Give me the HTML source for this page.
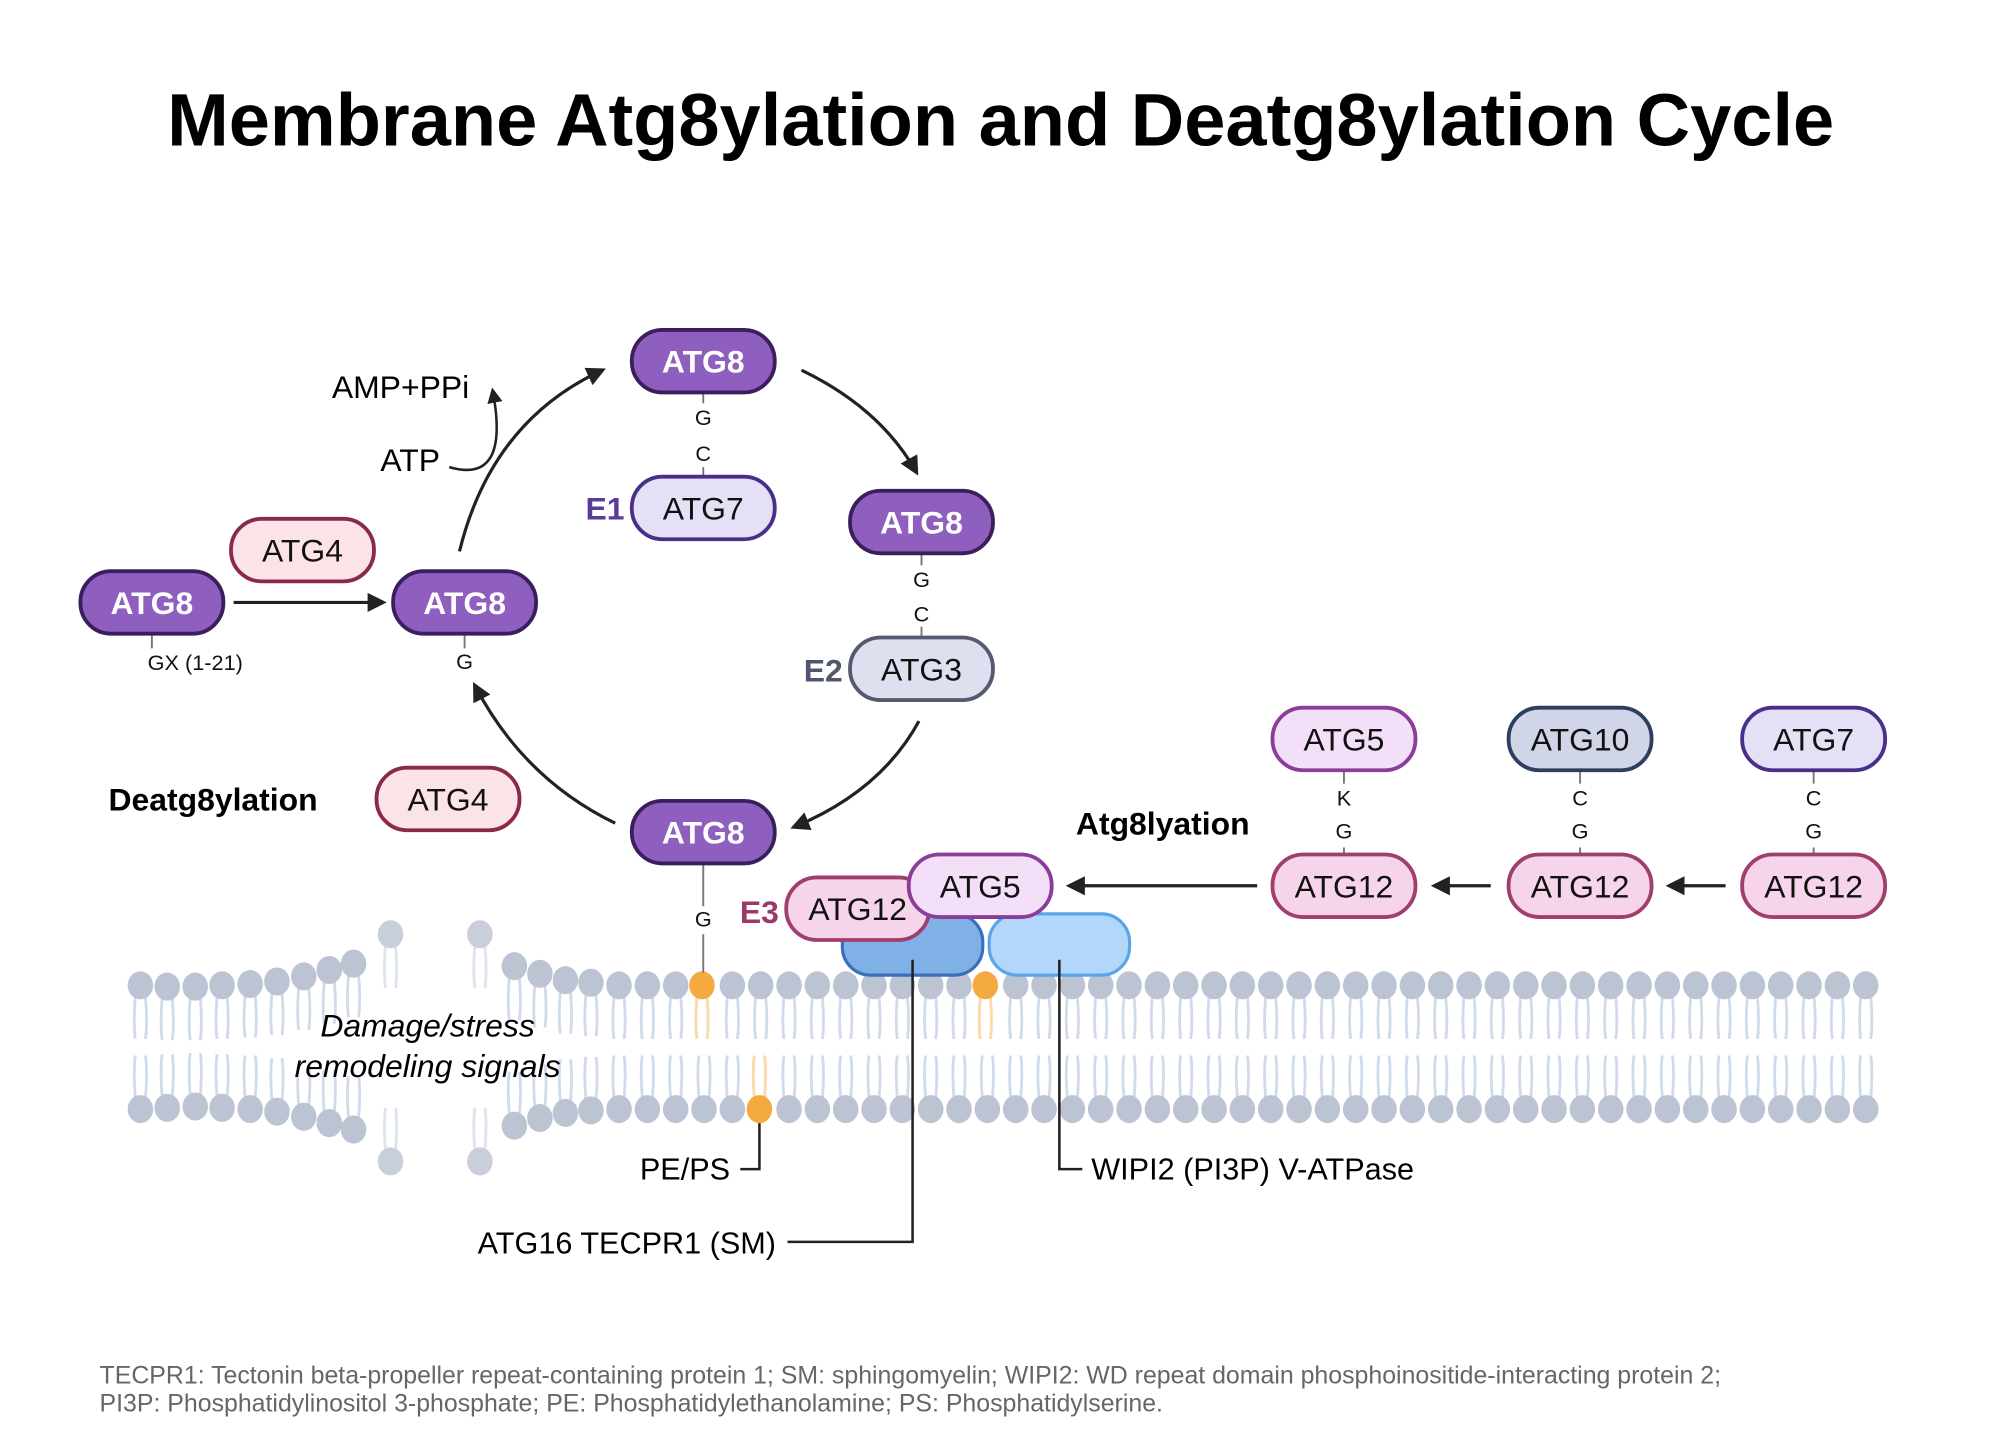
<!DOCTYPE html>
<html><head><meta charset="utf-8"><style>
html,body{margin:0;padding:0;background:#fff;}
svg{display:block;font-family:"Liberation Sans",sans-serif;}
</style></head><body>
<svg id="fig" width="2000" height="1455" viewBox="0 0 1567 1140" xmlns="http://www.w3.org/2000/svg">
<defs>
<marker id="ah" viewBox="0 0 10 10" refX="8" refY="5" markerWidth="6" markerHeight="6" orient="auto"><path d="M0,0 L10,5 L0,10 z" fill="#222"/></marker>
</defs>
<text x="784" y="114" text-anchor="middle" font-size="58" font-weight="bold" fill="#000">Membrane Atg8ylation and Deatg8ylation Cycle</text>

<g id="membrane"></g>

<rect x="660" y="716" width="110" height="48" rx="22" fill="#7fb0e6" stroke="#3a70b8" stroke-width="2.5"/>
<rect x="775" y="716" width="110" height="48" rx="22" fill="#b3d7fb" stroke="#5aa5e8" stroke-width="2.5"/>

<g fill="none" stroke="#222" stroke-width="2">
<path d="M595,880 V916 H580"/>
<path d="M715,752 V973 H617"/>
<path d="M830,752 V916 H848"/>
</g>
<text x="572" y="924" text-anchor="end" font-size="24">PE/PS</text>
<text x="608" y="982" text-anchor="end" font-size="24">ATG16 TECPR1 (SM)</text>
<text x="855" y="924" font-size="24">WIPI2 (PI3P) V-ATPase</text>

<text x="335" y="812" text-anchor="middle" font-size="25" font-style="italic">Damage/stress</text>
<text x="335" y="844" text-anchor="middle" font-size="25" font-style="italic">remodeling signals</text>

<g stroke="#777" stroke-width="1.5">
<line x1="119" y1="497" x2="119" y2="508"/>
<line x1="364" y1="497" x2="364" y2="508"/>
<line x1="551" y1="308" x2="551" y2="374"/>
<line x1="722" y1="434" x2="722" y2="500"/>
<line x1="551" y1="677" x2="551" y2="762"/>
<line x1="1053" y1="604" x2="1053" y2="670"/>
<line x1="1238" y1="604" x2="1238" y2="670"/>
<line x1="1421" y1="604" x2="1421" y2="670"/>
</g>
<g font-size="17" text-anchor="middle" fill="#111">
<rect x="540" y="316" width="22" height="50" fill="#fff"/>
<text x="551" y="333">G</text><text x="551" y="361">C</text>
<rect x="711" y="443" width="22" height="48" fill="#fff"/>
<text x="722" y="460">G</text><text x="722" y="487">C</text>
<rect x="540" y="710" width="22" height="22" fill="#fff"/>
<text x="551" y="726">G</text>
<text x="364" y="524">G</text>
<text x="153" y="525">GX (1-21)</text>
<rect x="1042" y="614" width="22" height="50" fill="#fff"/>
<text x="1053" y="631">K</text><text x="1053" y="657">G</text>
<rect x="1227" y="614" width="22" height="50" fill="#fff"/>
<text x="1238" y="631">C</text><text x="1238" y="657">G</text>
<rect x="1410" y="614" width="22" height="50" fill="#fff"/>
<text x="1421" y="631">C</text><text x="1421" y="657">G</text>
</g>

<g fill="none" stroke="#222" stroke-width="2.5" marker-end="url(#ah)">
<line x1="183" y1="472" x2="300" y2="472"/>
<path d="M360,432 Q385,330 472,290"/>
<path d="M628,290 Q690,320 718,370"/>
<path d="M720,565 Q690,620 622,648"/>
<path d="M482,645 Q410,610 372,537"/>
<path d="M352,366 Q400,380 386,306" stroke-width="2"/>
<line x1="985" y1="694" x2="838" y2="694"/>
<line x1="1168" y1="694" x2="1124" y2="694"/>
<line x1="1352" y1="694" x2="1308" y2="694"/>
</g>
<text x="260" y="312" font-size="25">AMP+PPi</text>
<text x="298" y="369" font-size="25">ATP</text>

<text x="85" y="635" font-size="25" font-weight="bold">Deatg8ylation</text>
<text x="843" y="654" font-size="25" font-weight="bold">Atg8lyation</text>
<text x="474" y="407" text-anchor="middle" font-size="25" font-weight="bold" fill="#5a3a9a">E1</text>
<text x="645" y="534" text-anchor="middle" font-size="25" font-weight="bold" fill="#50566e">E2</text>
<text x="595" y="723" text-anchor="middle" font-size="25" font-weight="bold" fill="#9a3a6a">E3</text>

<g id="pills"></g>

<text x="78" y="1084" font-size="19.5" fill="#666">TECPR1: Tectonin beta-propeller repeat-containing protein 1; SM: sphingomyelin; WIPI2: WD repeat domain phosphoinositide-interacting protein 2;</text>
<text x="78" y="1106" font-size="19.5" fill="#666">PI3P: Phosphatidylinositol 3-phosphate; PE: Phosphatidylethanolamine; PS: Phosphatidylserine.</text>
</svg>
<script>
const NS='http://www.w3.org/2000/svg';
function mk(tag,attrs,parent){const e=document.createElementNS(NS,tag);for(const k in attrs)e.setAttribute(k,attrs[k]);parent.appendChild(e);return e;}
const mem=document.getElementById('membrane');
const tail='#cfdaeb';
function lipid(x,y,dir,color,tcol,name){
  const g=mk('g',{},mem);
  
  
  const len=dir*42;
  mk('path',{d:`M${x-3},${y} Q${x-6},${y+len*0.6} ${x-4},${y+len}`,fill:'none',stroke:tcol,'stroke-width':2.2},g);
  mk('path',{d:`M${x+3},${y} Q${x+6},${y+len*0.6} ${x+4},${y+len}`,fill:'none',stroke:tcol,'stroke-width':2.2},g);
  mk('ellipse',{cx:x,cy:y,rx:10,ry:11,fill:color},g);
}
const head='#bcc4d3';
const leftTop=[[110,772],[131,773],[153,773],[174,772],[196,771],[217,769],[238,765],[258,760],[277,755]];
const leftBot=[[110,869],[131,868],[153,867],[174,868],[196,869],[217,871],[238,875],[258,880],[277,885]];
const rightTopStart=[[403,757],[423,763],[443,768],[463,770]];
const rightBotStart=[[403,882],[423,876],[443,872],[463,870]];
leftTop.forEach(p=>lipid(p[0],p[1],1,head,tail,'lipid-head'));
leftBot.forEach(p=>lipid(p[0],p[1],-1,head,tail,'lipid-head'));
rightTopStart.forEach(p=>lipid(p[0],p[1],1,head,tail,'lipid-head'));
rightBotStart.forEach(p=>lipid(p[0],p[1],-1,head,tail,'lipid-head'));
for(let x=485;x<=1462;x+=22.2){
  const top=Math.abs(x-550)<8||Math.abs(x-772)<8;
  const bot=Math.abs(x-595)<8;
  lipid(top?(Math.abs(x-550)<8?550:772):x,772,1,top?'#f5aa40':head,top?'#fbd9a8':tail,top?'pe-lipid':'lipid-head');
  lipid(bot?595:x,869,-1,bot?'#f5aa40':head,bot?'#fbd9a8':tail,bot?'ps-lipid':'lipid-head');
}
lipid(306,732,1,'#c8ceda','#dde4ef','loose-lipid');
lipid(376,732,1,'#c8ceda','#dde4ef','loose-lipid');
lipid(306,910,-1,'#c8ceda','#dde4ef','loose-lipid');
lipid(376,910,-1,'#c8ceda','#dde4ef','loose-lipid');

const P=document.getElementById('pills');
const styles={
 atg8:{f:'#8e5fbf',s:'#3a1f5c',t:'#fff',b:true},
 atg4:{f:'#fbe3e8',s:'#8b2a48',t:'#111'},
 atg7:{f:'#e4e0f5',s:'#4a2f8a',t:'#111'},
 atg3:{f:'#dde0ee',s:'#555a70',t:'#111'},
 atg12:{f:'#f6d5ea',s:'#a03e6e',t:'#111'},
 atg5:{f:'#f3e0f8',s:'#8a3e9a',t:'#111'},
 atg10:{f:'#d0d6e8',s:'#2e3e5e',t:'#111'}
};
function pill(cx,cy,label,st,name){
  const s=styles[st];
  const g=mk('g',{},P);
  
  
  mk('rect',{x:cx-56,y:cy-24.5,width:112,height:49,rx:24,fill:s.f,stroke:s.s,'stroke-width':3},g);
  const t=mk('text',{x:cx,y:cy+9,'text-anchor':'middle','font-size':25,fill:s.t,'font-weight':s.b?'bold':'normal'},g);
  t.textContent=label;
}
pill(119,472,'ATG8','atg8','atg8-precursor');
pill(237,431,'ATG4','atg4','atg4-processing');
pill(364,472,'ATG8','atg8','atg8-processed');
pill(551,283,'ATG8','atg8','atg8-e1');
pill(551,398,'ATG7','atg7','atg7-e1');
pill(722,409,'ATG8','atg8','atg8-e2');
pill(722,524,'ATG3','atg3','atg3-e2');
pill(551,652,'ATG8','atg8','atg8-membrane');
pill(351,626,'ATG4','atg4','atg4-deconjugation');
pill(672,712,'ATG12','atg12','atg12-e3');
pill(768,694,'ATG5','atg5','atg5-e3');
pill(1053,579,'ATG5','atg5','atg5-conjugate');
pill(1238,579,'ATG10','atg10','atg10-conjugate');
pill(1421,579,'ATG7','atg7','atg7-conjugate');
pill(1053,694,'ATG12','atg12','atg12-with-atg5');
pill(1238,694,'ATG12','atg12','atg12-with-atg10');
pill(1421,694,'ATG12','atg12','atg12-with-atg7');
</script>
</body></html>
